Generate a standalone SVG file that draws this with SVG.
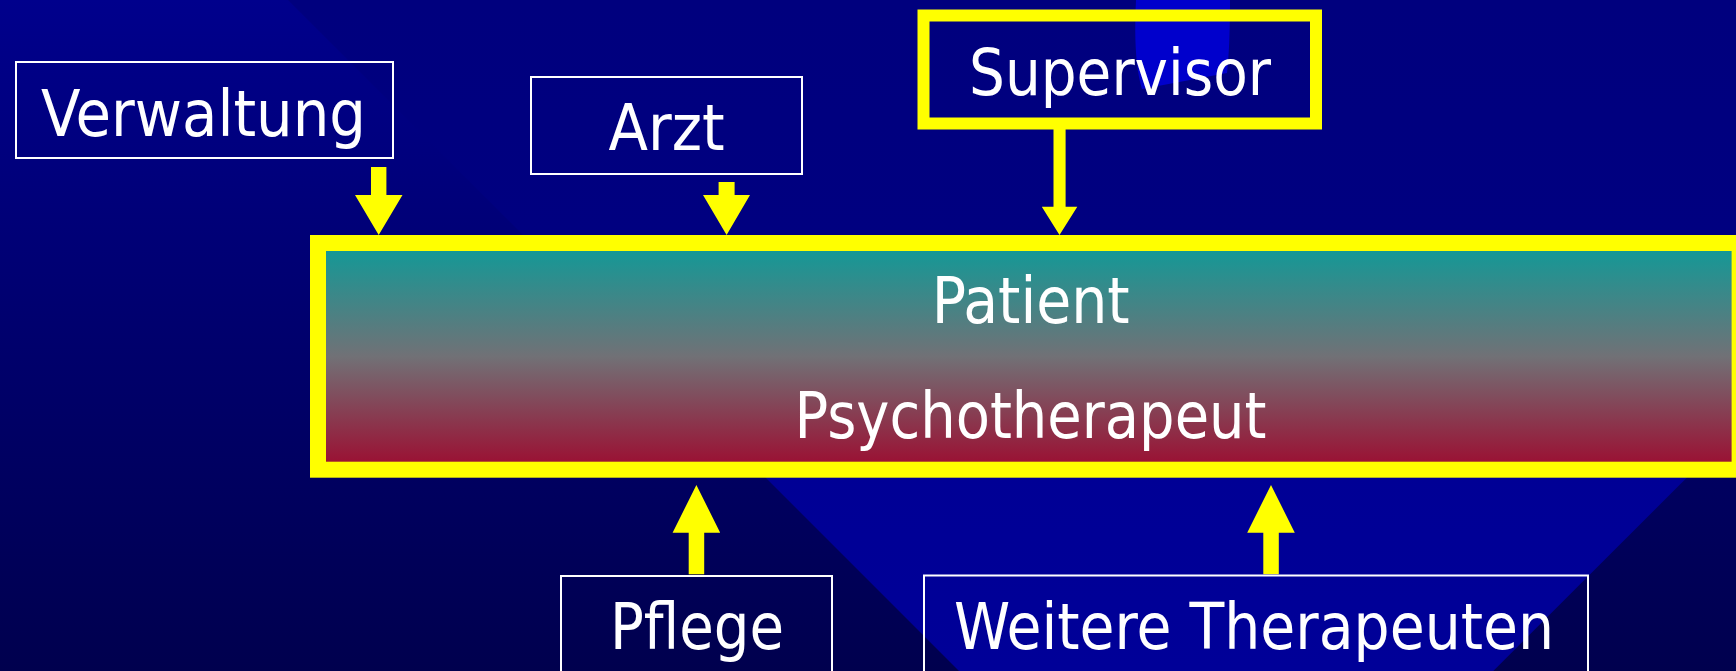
<svg xmlns="http://www.w3.org/2000/svg" width="1736" height="671" viewBox="0 0 1736 671">
  <defs>
    <linearGradient id="bgBase" x1="0" y1="0" x2="0" y2="671" gradientUnits="userSpaceOnUse">
      <stop offset="0" stop-color="#00008C"/>
      <stop offset="1" stop-color="#00004E"/>
    </linearGradient>
    <linearGradient id="bgTri" x1="0" y1="0" x2="0" y2="671" gradientUnits="userSpaceOnUse">
      <stop offset="0" stop-color="#00007E"/>
      <stop offset="0.35" stop-color="#000080"/>
      <stop offset="0.7" stop-color="#000095"/>
      <stop offset="1" stop-color="#000098"/>
    </linearGradient>
    <linearGradient id="mainFill" x1="0" y1="251" x2="0" y2="462" gradientUnits="userSpaceOnUse">
      <stop offset="0" stop-color="#159896"/>
      <stop offset="0.5" stop-color="#717176"/>
      <stop offset="1" stop-color="#9A1234"/>
    </linearGradient>
    <style>
      .box { fill: none; stroke: #FFFFFF; stroke-width: 2; }
      .lbl { font-family: "DejaVu Sans Condensed", "DejaVu Sans", sans-serif; font-size: 64px; fill: #FFFFFF; text-anchor: middle; }
      .arrow { fill: #FFFF00; }
    </style>
  </defs>

  <!-- background -->
  <rect x="0" y="0" width="1736" height="671" fill="url(#bgBase)"/>
  <polygon points="288,0 2165,0 1226,938" fill="url(#bgTri)"/>
  <path d="M1137,0 L1230,0 C1230,30 1229,55 1227,73 L1142,89 C1136,70 1134,40 1136,0 Z" fill="#0000CC"/>

  <!-- connectors -->
  <g id="connectors">
    <polygon class="arrow" points="371,167 386.4,167 386.4,195 402.5,195 378.7,235 355,195 371,195"/>
    <polygon class="arrow" points="718.6,182 734.6,182 734.6,195 750,195 726.6,235 703,195 718.6,195"/>
    <polygon class="arrow" points="1053.5,129 1065.6,129 1065.6,206.7 1077.3,206.7 1059.5,235 1041.8,206.7 1053.5,206.7"/>
    <polygon class="arrow" points="688.7,574.3 704.2,574.3 704.2,532.7 720.2,532.7 696.4,485 672.6,532.7 688.7,532.7"/>
    <polygon class="arrow" points="1263.3,574.3 1278.8,574.3 1278.8,532.7 1294.8,532.7 1271,485 1247.2,532.7 1263.3,532.7"/>
  </g>

  <g id="main">
    <rect x="318" y="243" width="1421.6" height="226.7" fill="url(#mainFill)" stroke="#FFFF00" stroke-width="16"/>
    <text class="lbl" x="1030.7" y="323" textLength="198" lengthAdjust="spacingAndGlyphs">Patient</text>
    <text class="lbl" x="1030.5" y="438" textLength="472" lengthAdjust="spacingAndGlyphs">Psychotherapeut</text>
  </g>

  <g id="verwaltung">
    <rect class="box" x="16" y="62" width="377" height="96"/>
    <text class="lbl" x="203.5" y="136" textLength="325" lengthAdjust="spacingAndGlyphs">Verwaltung</text>
  </g>

  <g id="arzt">
    <rect class="box" x="531" y="77" width="271" height="97"/>
    <text class="lbl" x="666.5" y="150" textLength="116" lengthAdjust="spacingAndGlyphs">Arzt</text>
  </g>

  <g id="supervisor">
    <rect x="923.5" y="15.5" width="392.5" height="108" fill="none" stroke="#FFFF00" stroke-width="12"/>
    <text class="lbl" x="1120" y="95" textLength="302" lengthAdjust="spacingAndGlyphs">Supervisor</text>
  </g>

  <g id="pflege">
    <rect class="box" x="561" y="576" width="271" height="120"/>
    <text class="lbl" x="697" y="649" textLength="174" lengthAdjust="spacingAndGlyphs">Pflege</text>
  </g>

  <g id="weitere">
    <rect class="box" x="924" y="575.5" width="664" height="120"/>
    <text class="lbl" x="1254" y="649" textLength="600" lengthAdjust="spacingAndGlyphs">Weitere Therapeuten</text>
  </g>
</svg>
